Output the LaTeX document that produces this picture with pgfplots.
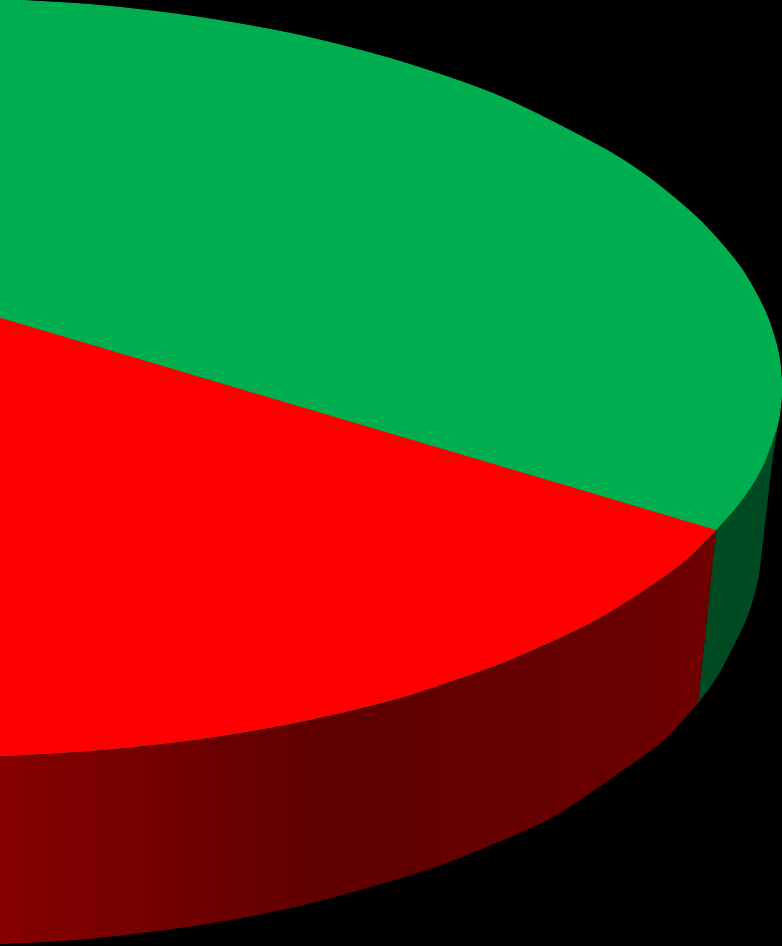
\documentclass[border=0pt]{standalone}
\usepackage{pgfplots}
\pgfplotsset{compat=1.18}
\definecolor{topgreen}{HTML}{00AD4F}
\definecolor{sidegreen}{HTML}{004A22}
\definecolor{topred}{HTML}{FF0000}
\definecolor{sideredA}{HTML}{8E0000}
\definecolor{sideredB}{HTML}{5E0000}
\definecolor{sideredC}{HTML}{6E0000}

\begin{document}
\begin{tikzpicture}
	\begin{axis}[
			width = 7.82cm,
			height = 9.46cm,
			scale only axis,
			hide axis,
			xmin = 0, xmax = 782,
			ymin = 0, ymax = 946,
			y dir = reverse,
			clip = true,
		]
		% background
		\addplot[fill = black, draw = none] coordinates {
			(-10,-10) (800,-10) (800,960) (-10,960)
		} -- cycle;

		% side wall, green slice
		\addplot[fill = sidegreen, draw = none, smooth] coordinates {
			(782,388) (781,405) (778,425) (774,450) (770,480) (766,515)
			(762,550) (758,580) (748,615) (734,645) (717,677) (698,703)
		} -- (716,530) -- (650,450) -- cycle;

		% side wall, red slice
		\addplot[shade, left color = sideredA, right color = sideredC, middle color = sideredB, draw = none, smooth] coordinates {
			(698,703) (680,723) (663,741) (623,770) (549,819) (449,862)
			(374,886) (299,906) (225,921) (150,932) (75,940) (0,944) (-60,946)
		} -- (-60,600) -- (716,530) -- cycle;

		% top, green slice (whole top face)
		\addplot[fill = topgreen, draw = none, smooth] coordinates {
			(-60,-2) (0,-1) (100,5) (200,17) (300,35) (400,61) (500,96)
			(600,146) (650,178) (700,220) (740,266) (765,310) (777,345)
			(781,368) (782,388) (781,406) (777,428) (762,468) (742,500)
			(716,530) (682,563) (632,598) (582,627) (499,664) (399,698)
			(299,722) (200,739) (100,750) (0,756) (-60,757)
		} -- cycle;

		% top, red slice
		\addplot[fill = topred, draw = none, smooth] coordinates {
			(716,530) (682,563) (632,598) (582,627) (499,664) (399,698)
			(299,722) (200,739) (100,750) (0,756) (-60,757)
		} -- (-60,300) -- cycle;
	\end{axis}
\end{tikzpicture}
\end{document}
